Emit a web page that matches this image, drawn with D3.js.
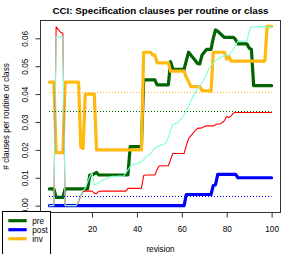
<!DOCTYPE html>
<html><head><meta charset="utf-8">
<script src="https://cdn.jsdelivr.net/npm/d3@7/dist/d3.min.js"></script>
<style>
html,body{margin:0;padding:0;background:#fff;}
svg{display:block;font-family:"Liberation Sans",Arial,sans-serif;}
</style></head>
<body>
<svg id="chart" width="294" height="254"></svg>
<script>
// ---- data ----
const revisions = d3.range(1, 101);
const pre = [
 0.006,0.006,0.006,0.003,0.003,0.003,0.003,0.006,0.006,0.006,
 0.006,0.006,0.006,0.006,0.006,0.006,0.006,0.006,0.011,0.011,
 0.0115,0.0119,0.011,0.011,0.011,0.011,0.011,0.011,0.011,0.011,
 0.011,0.011,0.011,0.011,0.011,0.011,0.0212,0.0212,0.0212,0.0212,
 0.0212,0.0212,0.0451,0.0451,0.0451,0.0451,0.0451,0.0451,0.0433,0.0433,
 0.0433,0.0433,0.0433,0.0433,0.0516,0.0489,0.0489,0.0489,0.0489,0.0489,
 0.0489,0.052,0.055,0.054,0.053,0.052,0.051,0.0508,0.054,0.055,
 0.056,0.056,0.056,0.060,0.063,0.0625,0.0618,0.061,0.0603,0.0603,
 0.0603,0.0603,0.0603,0.0595,0.058,0.058,0.058,0.058,0.058,0.0565,
 0.056,0.043,0.043,0.043,0.043,0.043,0.043,0.043,0.043,0.043
];
const post = [
 0,0,0,0,0,0,0,0,0,0, 0,0,0,0,0,0,0,0,0,0,
 0,0,0,0,0,0,0,0,0,0, 0,0,0,0,0,0,0,0,0,0,
 0,0,0,0,0,0,0,0,0,0, 0,0,0,0,0,0,0,0,0,0,
 0,0.004,0.004,0.004,0.004,0.004,0.004,0.004,0.004,0.004,
 0.004,0.004,0.004,0.0072,0.0075,0.0112,0.0112,0.0112,0.0112,0.0112,
 0.0112,0.0112,0.0112,0.0112,0.010,0.010,0.010,0.010,0.010,0.010,
 0.010,0.010,0.010,0.010,0.010,0.010,0.010,0.010,0.010,0.010
];
const inv = [
 0.0443,0.0443,0.0443,0.019,0.019,0.019,0.019,0.0443,0.0443,0.0443,
 0.0443,0.0443,0.0443,0.0443,0.021,0.0205,0.040,0.040,0.040,0.040,
 0.040,0.020,0.020,0.020,0.020,0.020,0.020,0.020,0.020,0.020,
 0.020,0.020,0.020,0.020,0.020,0.020,0.020,0.020,0.020,0.020,
 0.020,0.020,0.055,0.055,0.055,0.055,0.054,0.054,0.0512,0.0512,
 0.0512,0.0512,0.0512,0.0512,0.0482,0.0482,0.0482,0.0482,0.0482,0.0482,
 0.0482,0.046,0.0445,0.0427,0.0427,0.0427,0.0427,0.0427,0.0412,0.0412,
 0.0412,0.0412,0.041,0.055,0.055,0.055,0.055,0.055,0.055,0.0525,
 0.0535,0.0518,0.0518,0.0518,0.0518,0.0518,0.0518,0.0518,0.0518,0.0518,
 0.0518,0.0518,0.0518,0.0518,0.0518,0.0518,0.0518,0.0643,0.0643,0.0643
];
const aqua = [
 0,0,0,0.0605,0.0605,0.0605,0.0605,0,0,0,
 0,0,0,0.002,0.004,0.0055,0.0062,0.0085,0.0104,0.0116,
 0.0075,0.0078,0.0082,0.0088,0.0092,0.0095,0.0099,0.0103,0.0105,0.0105,
 0.0105,0.0106,0.0106,0.0105,0.0118,0.0128,0.014,0.0146,0.0149,0.0151,
 0.0154,0.0157,0.0165,0.0176,0.018,0.0185,0.0198,0.0205,0.0212,0.0215,
 0.0218,0.022,0.0228,0.0245,0.027,0.029,0.0295,0.0296,0.0305,0.0315,
 0.0325,0.034,0.0355,0.0375,0.039,0.0405,0.042,0.043,0.044,0.0455,
 0.047,0.049,0.050,0.051,0.052,0.0525,0.053,0.0534,0.0537,0.054,
 0.054,0.055,0.056,0.0575,0.059,0.059,0.059,0.059,0.059,0.0625,
 0.0641,0.0641,0.0641,0.0641,0.0641,0.0641,0.0641,0.0641,0.0641,0.0641
];
const red = [
 0,0,0,0.0641,0.063,0.0622,0.0618,0,0,0,
 0,0,0,0.0015,0.0037,0.0051,0.0052,0.0052,0.0052,0.0052,
 0.0045,0.0043,0.0051,0.0052,0.0052,0.0052,0.0052,0.0052,0.0052,0.0052,
 0.0052,0.0052,0.0052,0.0052,0.0052,0.0062,0.0062,0.0062,0.0062,0.0062,
 0.0062,0.0063,0.0108,0.011,0.011,0.011,0.011,0.011,0.013,0.0143,
 0.0143,0.0143,0.0143,0.0143,0.0165,0.0187,0.0187,0.0187,0.0187,0.0187,
 0.0187,0.0215,0.024,0.025,0.026,0.027,0.0277,0.0278,0.0279,0.0284,
 0.0286,0.0286,0.0286,0.0286,0.029,0.0293,0.0293,0.0298,0.0305,0.032,
 0.0316,0.0322,0.0332,0.0334,0.0334,0.0334,0.0334,0.0334,0.0334,0.0334,
 0.0334,0.0334,0.0334,0.0334,0.0334,0.0334,0.0334,0.0334,0.0334,0.0334
];
const meanNames = ["pre", "post", "inv"];
const meanValues = [0.0341, 0.0033, 0.0409];
const xTicks = [20, 40, 60, 80, 100];
const yTicks = [0, 0.01, 0.02, 0.03, 0.04, 0.05, 0.06];
const legendLabels = ["pre", "post", "inv"];
const titleText = "CCI: Specification clauses per routine or class";
const xLabel = "revision";
const yLabel = "# clauses per routine or class";

// ---- styles ----
const colors = {pre: "#006400", post: "#0000ff", inv: "#ffb90f", red: "#ff0000", aqua: "#7fffd4"};
const FS = 8.2;

const svg = d3.select("#chart");
const x = d3.scaleLinear().domain([-2.96, 103.96]).range([40.5, 280.5]);
const y = d3.scaleLinear().domain([-0.00256, 0.06656]).range([212.8, 20]);

const line = d3.line().x((d, i) => x(revisions[i])).y(d => y(d));

const g = svg.append("g");
// thick series
[["pre", pre], ["post", post], ["inv", inv]].forEach(([k, arr]) => {
  g.append("path").attr("d", line(arr)).attr("fill", "none")
   .attr("stroke", colors[k]).attr("stroke-width", 3.2)
   .attr("stroke-linejoin", "round").attr("stroke-linecap", "round");
});
// thin series
[["red", red], ["aqua", aqua]].forEach(([k, arr]) => {
  g.append("path").attr("d", line(arr)).attr("fill", "none")
   .attr("stroke", colors[k]).attr("stroke-width", 1.1)
   .attr("stroke-linejoin", "round").attr("stroke-linecap", "round");
});
// mean dotted lines
meanNames.forEach((k, i) => {
  const yy = Math.round(y(meanValues[i])) + 0.5;
  g.append("line")
   .attr("x1", Math.round(x(1))).attr("x2", x(100))
   .attr("y1", yy).attr("y2", yy)
   .attr("stroke", colors[k]).attr("stroke-width", 1.2)
   .attr("stroke-dasharray", "1,2");
});

// box
svg.append("rect").attr("x", 40.5).attr("y", 20.5).attr("width", 240).attr("height", 192)
  .attr("fill", "none").attr("stroke", "#333").attr("stroke-width", 1);

// x axis
const xAxis = d3.axisBottom(x).tickValues(xTicks).tickSize(5).tickPadding(3).tickFormat(d3.format("d"));
const xg = svg.append("g").attr("transform", "translate(0,212.5)").call(xAxis);
xg.select(".domain").remove();
xg.selectAll("line").attr("stroke", "#333");
xg.selectAll("text").attr("font-size", FS).attr("fill", "#000")
  .attr("font-family", "Liberation Sans, Arial, sans-serif")
  .attr("dy", null).attr("y", 19);

// y axis
const yAxis = d3.axisLeft(y).tickValues(yTicks).tickSize(5).tickFormat(d3.format(".2f"));
const yg = svg.append("g").attr("transform", "translate(40.5,0)").call(yAxis);
yg.select(".domain").remove();
yg.selectAll("line").attr("stroke", "#333");
yg.selectAll("text").attr("font-size", FS).attr("fill", "#000")
  .attr("font-family", "Liberation Sans, Arial, sans-serif")
  .attr("x", null).attr("dy", null).attr("text-anchor", "middle")
  .attr("transform", "translate(-12.3,0) rotate(-90)");

// title and labels
svg.append("text").attr("x", 160.5).attr("y", 13.6).attr("text-anchor", "middle")
  .attr("font-size", 9.8).attr("font-weight", "bold").text(titleText);
svg.append("text").attr("x", 160.5).attr("y", 252).attr("text-anchor", "middle")
  .attr("font-size", FS).text(xLabel);
svg.append("text").attr("transform", "translate(9,116.4) rotate(-90)").attr("text-anchor", "middle")
  .attr("font-size", FS).text(yLabel);

// legend
const lg = svg.append("g");
lg.append("rect").attr("x", 2.5).attr("y", 211.5).attr("width", 48).attr("height", 46)
  .attr("fill", "#fff").attr("stroke", "#000").attr("stroke-width", 1);
const legY = [220.7, 229.7, 238.7];
legendLabels.forEach((k, i) => {
  lg.append("line").attr("x1", 8.3).attr("x2", 26.7).attr("y1", legY[i]).attr("y2", legY[i])
    .attr("stroke", colors[k]).attr("stroke-width", 3.2);
  lg.append("text").attr("x", 32.3).attr("y", legY[i] + 3).attr("font-size", FS).text(k);
});
</script>
</body></html>
